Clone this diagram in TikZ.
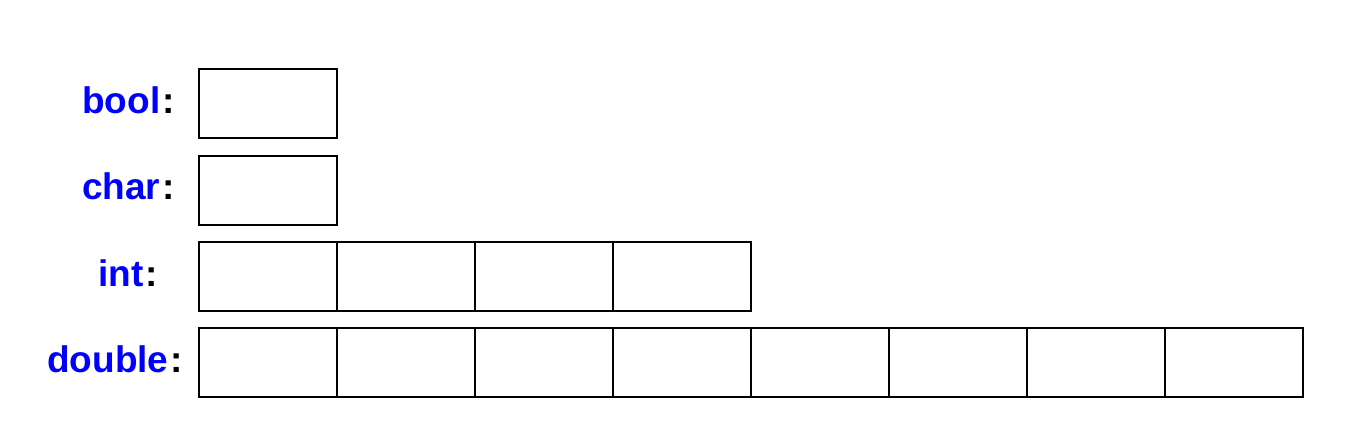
\documentclass[tikz,border=0pt]{standalone}
\usepackage{fontspec}
\setmainfont{Liberation Sans}
\begin{document}
\begin{tikzpicture}[x=1pt,y=-1pt,
  cell/.style={draw=black,line width=1.6pt,minimum width=138pt,minimum height=69pt,inner sep=0pt,anchor=north west},
  lbl/.style={anchor=base west,inner sep=0pt,font=\fontsize{37}{40}\selectfont}]
\useasboundingbox (0,0) rectangle (1362,446);
% rows
\foreach \r/\top/\n in {bool/68/1, char/155/1, int/241/4, double/327/8}{
  \foreach \i in {1,...,\n}{
    \node[cell] (\r\i) at ({198+138*(\i-1)},\top) {};
  }
}
\newcommand{\colonmark}{\hspace{2pt}\textbf{:}}
\node[lbl] (lbool) at (82,114) {\textcolor{blue}{\bfseries bool}\colonmark};
\node[lbl] (lchar) at (82,200) {\textcolor{blue}{\bfseries char}\colonmark};
\node[lbl] (lint) at (98,287) {\textcolor{blue}{\bfseries int}\colonmark};
\node[lbl] (ldouble) at (47,372) {\textcolor{blue}{\bfseries double}\colonmark};
\end{tikzpicture}
\end{document}
